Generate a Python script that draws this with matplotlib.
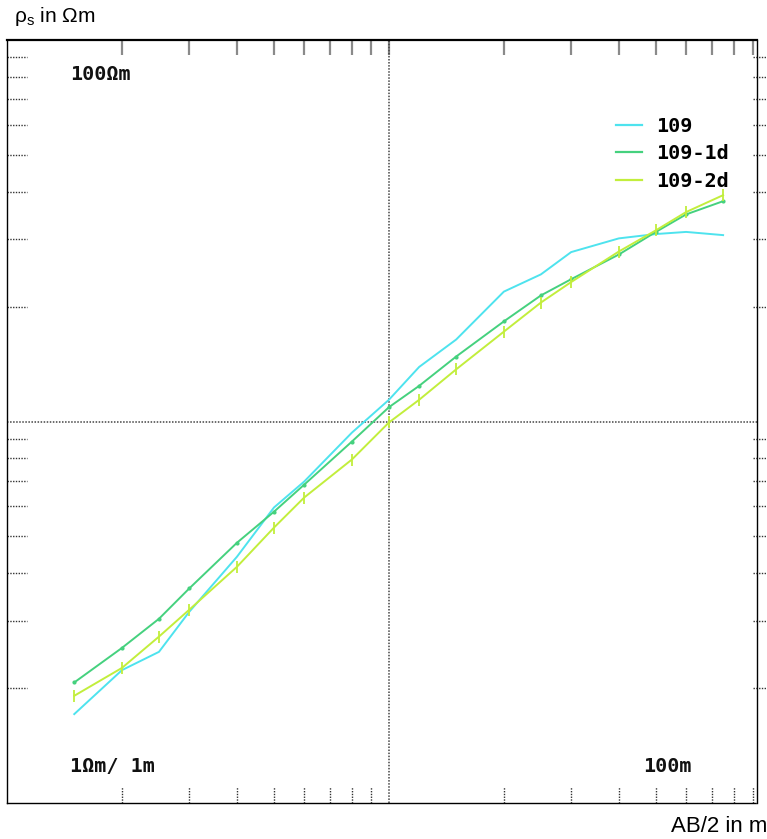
import numpy as np
import matplotlib
matplotlib.use('Agg')
import matplotlib.pyplot as plt

# AB/2 spacing in m and apparent resistivity in Ohm m
ab2 = [1.5, 2, 2.5, 3, 4, 5, 6, 8, 10, 12, 15, 20, 25, 30, 40, 50, 60, 75]
rho_109 = [1.71, 2.23, 2.49, 3.17, 4.42, 5.95, 6.96, 9.35, 11.4, 13.9, 16.4,
           21.9, 24.3, 27.8, 30.2, 31.0, 31.4, 30.8]
rho_109_1d = [2.07, 2.55, 3.04, 3.65, 4.81, 5.80, 6.83, 8.86, 10.9, 12.4, 14.8,
              18.3, 21.4, 23.6, 27.4, 31.4, 34.9, 37.8]
rho_109_2d = [1.91, 2.26, 2.73, 3.21, 4.16, 5.27, 6.32, 7.95, 9.94, 11.4, 13.7,
              17.2, 20.5, 23.2, 27.9, 31.7, 35.4, 39.2]
labels = ['109', '109-1d', '109-2d']

W, H = 767, 839
fig = plt.figure(figsize=(W / 100, H / 100), dpi=100)
ax = fig.add_axes([7 / W, 1 - 803 / H, 750 / W, 763 / H])
ax.set_xscale('log')
ax.set_yscale('log')
ax.set_xlim(1, 92)
ax.set_ylim(1, 100)
ax.set_xticks([])
ax.set_yticks([])
ax.xaxis.set_minor_locator(plt.NullLocator())
ax.yaxis.set_minor_locator(plt.NullLocator())

# frame
dot = (0, (1, 1))
ax.spines['top'].set_linewidth(1.6)
for s in ['left', 'bottom', 'right']:
    ax.spines[s].set_linestyle(dot)
    ax.spines[s].set_linewidth(1.0)

# ticks drawn by hand to get the plotter look
tk = [m * 10 ** e for e in (0, 1) for m in range(2, 10)]
xt = [t for t in tk if t < 92]
ax.vlines(xt + [10], 1 - 15 / 763, 1, transform=ax.get_xaxis_transform(),
          color='#8a8a8a', lw=1.6, clip_on=False)
ax.vlines(xt, 0, 16 / 763, transform=ax.get_xaxis_transform(),
          color='#333333', lw=1.0, linestyles=dot)
ax.hlines(tk, 0, 20 / 750, transform=ax.get_yaxis_transform(),
          color='#333333', lw=1.0, linestyles=dot)
ax.hlines(tk, 1 - 4 / 750, 1 + 10 / 750, transform=ax.get_yaxis_transform(),
          color='#333333', lw=1.0, linestyles=dot, clip_on=False)

# centre cross
ax.axvline(10, color='#444444', lw=1.1, ls=dot)
ax.axhline(10, color='#444444', lw=1.1, ls=dot)

# curves
ax.plot(ab2, rho_109, color='#4ee3ee', lw=1.4, label=labels[0])
ax.plot(ab2, rho_109_1d, color='#45d17e', lw=1.4, marker='.', ms=4,
        label=labels[1])
ax.plot(ab2, rho_109_2d, color='#c2ee3c', lw=1.4, marker='|', ms=9, mew=1.3,
        label=labels[2])

mono = dict(family='DejaVu Sans Mono', weight='bold', size=14.5, color='#111111')
leg = ax.legend(loc='upper left', bbox_to_anchor=(616 / W, 1 - 117 / H),
                bbox_transform=fig.transFigure, frameon=False, borderpad=0,
                borderaxespad=0, handlelength=1.3, handletextpad=0.7,
                labelspacing=0.42, prop=dict(family='DejaVu Sans Mono',
                                             weight='bold', size=14.5))
for line in leg.get_lines():
    line.set_marker('')
    line.set_linewidth(1.6)

fig.text(70 / W, 1 - 75 / H, '100Ωm', ha='left', va='center', **mono)
fig.text(70 / W, 1 - 767 / H, '1Ωm/ 1m', ha='left', va='center', **mono)
fig.text(643 / W, 1 - 766 / H, '100m', ha='left', va='center', **mono)

sans = dict(family='Liberation Sans', size=15, color='black')
fig.text(14 / W, 1 - 17 / H, r'$\mathregular{ρ_s}$ in Ωm', ha='left',
         va='center', **sans)
fig.text(767 / W, 1 - 826 / H, 'AB/2 in m', ha='right', va='center',
         family='Liberation Sans', size=16, color='black')

fig.savefig('out.png', dpi=100)
